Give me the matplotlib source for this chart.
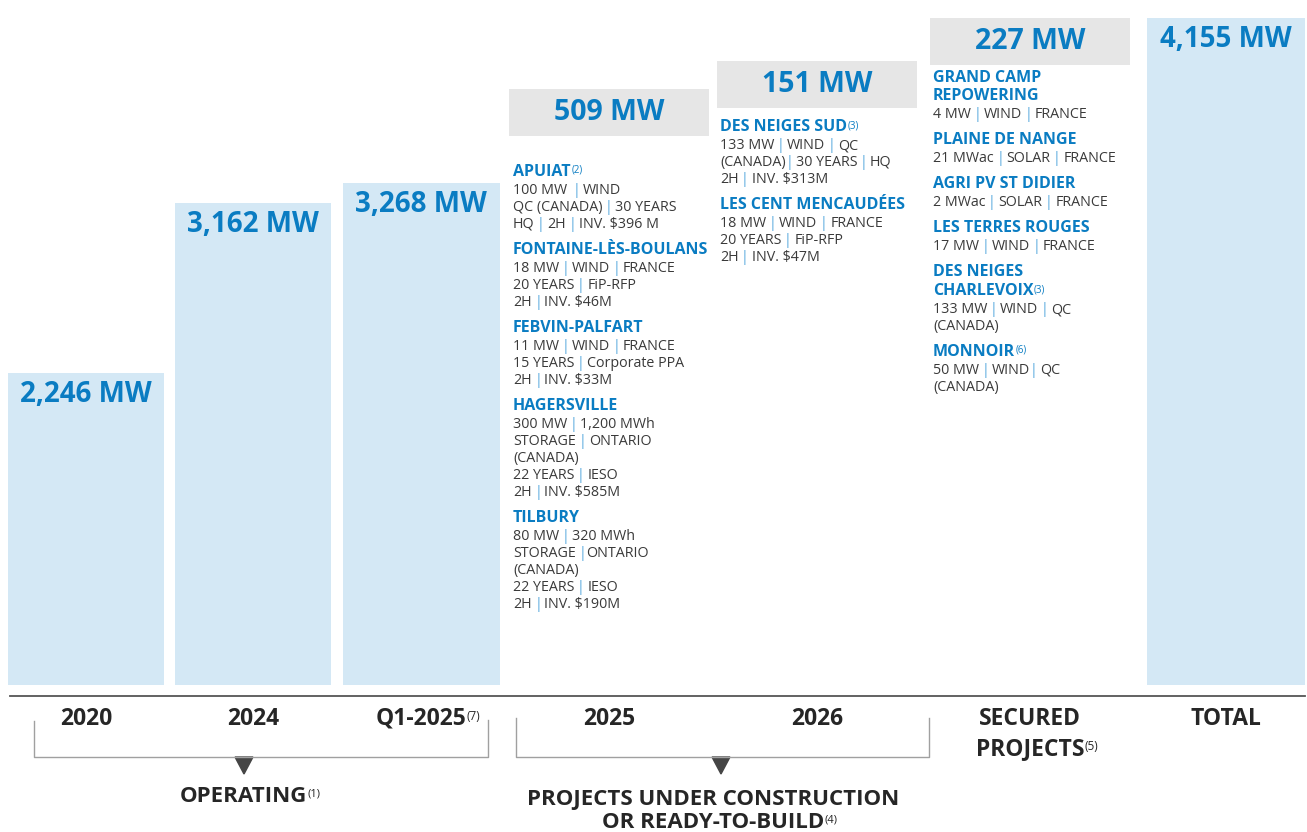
import numpy as np
import matplotlib
matplotlib.use("Agg")
import matplotlib.pyplot as plt
from matplotlib.patches import Polygon

plt.rcParams['font.family'] = ['Open Sans', 'DejaVu Sans']

BLUE = '#0a7cc2'
BAR = '#d4e8f5'
BOX = '#e6e6e6'
DARK = '#262626'
GREY = '#3a3a3a'
PIPE = '#5aaade'

# data
bar_labels = ['2020', '2024', 'Q1-2025', 'TOTAL']
bar_sups = ['', '', '(7)', '']
bar_values = [2246, 3162, 3268, 4155]

step_labels = ['2025', '2026', 'SECURED\nPROJECTS']
step_sups = ['', '', '(5)']
step_values = [509, 151, 227]

projects_2025 = [
    (['APUIAT'], '(2)', ['100 MW  | WIND', 'QC (CANADA) | 30 YEARS', 'HQ | 2H | INV. $396 M']),
    (['FONTAINE-LÈS-BOULANS'], '', ['18 MW | WIND | FRANCE', '20 YEARS | FiP-RFP', '2H | INV. $46M']),
    (['FEBVIN-PALFART'], '', ['11 MW | WIND | FRANCE', '15 YEARS | Corporate PPA', '2H | INV. $33M']),
    (['HAGERSVILLE'], '', ['300 MW | 1,200 MWh', 'STORAGE | ONTARIO', '(CANADA)',
                          '22 YEARS | IESO', '2H | INV. $585M']),
    (['TILBURY'], '', ['80 MW | 320 MWh', 'STORAGE |ONTARIO', '(CANADA)',
                      '22 YEARS | IESO', '2H | INV. $190M']),
]
projects_2026 = [
    (['DES NEIGES SUD'], '(3)', ['133 MW | WIND | QC', '(CANADA)| 30 YEARS | HQ', '2H | INV. $313M']),
    (['LES CENT MENCAUDÉES'], '', ['18 MW | WIND | FRANCE', '20 YEARS | FiP-RFP', '2H | INV. $47M']),
]
projects_secured = [
    (['GRAND CAMP', 'REPOWERING'], '', ['4 MW | WIND | FRANCE']),
    (['PLAINE DE NANGE'], '', ['21 MWac | SOLAR | FRANCE']),
    (['AGRI PV ST DIDIER'], '', ['2 MWac | SOLAR | FRANCE']),
    (['LES TERRES ROUGES'], '', ['17 MW | WIND | FRANCE']),
    (['DES NEIGES', 'CHARLEVOIX'], '(3)', ['133 MW | WIND | QC', '(CANADA)']),
    (['MONNOIR'], '(6)', ['50 MW | WIND| QC', '(CANADA)']),
]

group_names = [['OPERATING'], ['PROJECTS UNDER CONSTRUCTION', 'OR READY-TO-BUILD']]
group_sups = ['(1)', '(4)']

# layout
W, H = 1307, 832
bar_x = [86, 253, 421, 1226]
bar_w = [156, 156, 157, 158]
step_x = [609, 817, 1030]
step_w = 200
k = 0.1855      # px per MW
base = 562      # MW value at bar foot

fig = plt.figure(figsize=(W / 100, H / 100), dpi=100)
ax = fig.add_axes([0, (H - 696) / H, 1, 696 / H])
ax.set_xlim(0, W)
ax.set_ylim(base - 11 / k, base + 685 / k)

vals = np.array(bar_values)
ax.bar(bar_x, vals - base, bottom=base, width=bar_w, color=BAR, zorder=1)
for x, v in zip(bar_x, vals):
    ax.annotate(f'{v:,} MW', (x, v), xytext=(0, -7), textcoords='offset pixels',
                ha='center', va='top', fontsize=20, fontweight='bold', color=BLUE)

cum = bar_values[2] + np.cumsum(step_values)
box_h = 47 / k
ax.bar(step_x, box_h, bottom=cum - box_h, width=step_w, color=BOX, zorder=1)
for x, c, v in zip(step_x, cum, step_values):
    ax.text(x, c - box_h / 2, f'{v} MW', ha='center', va='center',
            fontsize=20.5, fontweight='bold', color=BLUE)

for s in ['top', 'left', 'right']:
    ax.spines[s].set_visible(False)
ax.spines['bottom'].set_bounds(10, 1305)
ax.spines['bottom'].set_color('#555555')
ax.spines['bottom'].set_linewidth(1.3)
ax.set_xticks([])
ax.set_yticks([])

# overlay in pixel units for text layout
ov = fig.add_axes([0, 0, 1, 1])
ov.set_xlim(0, W)
ov.set_ylim(H, 0)
ov.axis('off')


def sup_after(t, sup, size, color, dy=-3):
    if sup:
        ov.annotate(sup, xy=(1, 1), xycoords=t, xytext=(0.5, dy), textcoords='offset pixels',
                    ha='left', va='top', fontsize=size, color=color)


def cat_label(x, text, sup, y=719):
    lines = text.split('\n')
    for i, ln in enumerate(lines):
        t = ov.text(x, y + 30 * i, ln, ha='center', va='center', fontsize=16.5,
                    fontweight='bold', color=DARK)
    sup_after(t, sup, 8.5, DARK)


for x, lab, sp in zip(bar_x, bar_labels, bar_sups):
    cat_label(x, lab, sp)
for x, lab, sp in zip(step_x, step_labels, step_sups):
    cat_label(x, lab, sp)


def detail_line(x, y, text, size=10.3):
    # draw segments one after another so the separators can be coloured
    parts = text.split('|')
    prev = ov.text(x, y, parts[0].rstrip(), ha='left', va='baseline', fontsize=size,
                   color=GREY)
    sp = 2.8
    for p in parts[1:]:
        gap_l = sp * (len(parts[0]) - len(parts[0].rstrip())) - 0.3
        pipe = ov.annotate('|', xy=(1, 0), xycoords=prev, xytext=(gap_l, 0),
                           textcoords='offset pixels', ha='left', va='bottom',
                           fontsize=size, color=PIPE)
        gap_r = sp * (len(p) - len(p.lstrip())) - 0.3
        prev = ov.annotate(p.strip(), xy=(1, 0), xycoords=pipe, xytext=(gap_r, 0),
                           textcoords='offset pixels', ha='left', va='bottom',
                           fontsize=size, color=GREY)
        parts[0] = p


def block(x, y, projects):
    for gi, (names, sup, details) in enumerate(projects):
        if gi:
            y += 26
        for i, nm in enumerate(names):
            if i:
                y += 18.5
            t = ov.text(x, y, nm, ha='left', va='center', fontsize=11.5,
                        fontweight='bold', color=BLUE)
        sup_after(t, sup, 7, BLUE, dy=-1)
        for j, d in enumerate(details):
            y += 18 if j == 0 else 17
            detail_line(x, y + 4, d)


block(513, 172, projects_2025)
block(720, 127, projects_2026)
block(933, 78, projects_secured)

# brackets
ov.plot([34, 34, 488, 488], [721, 757, 757, 720], color='#a0a0a0', lw=1)
ov.plot([516, 516, 929, 929], [718, 757, 757, 718], color='#a0a0a0', lw=1)
for cx in [244, 721]:
    ov.add_patch(Polygon([(cx - 9, 757), (cx + 9, 757), (cx, 774)], closed=True,
                         color='#454545'))

for (cx, y0), names, sp in zip([(243, 796), (713, 800)], group_names, group_sups):
    for i, nm in enumerate(names):
        t = ov.text(cx, y0 + 22 * i, nm, ha='center', va='center', fontsize=16,
                    fontweight='bold', color=DARK)
    sup_after(t, sp, 8, DARK)

fig.savefig('out.png', dpi=100)
